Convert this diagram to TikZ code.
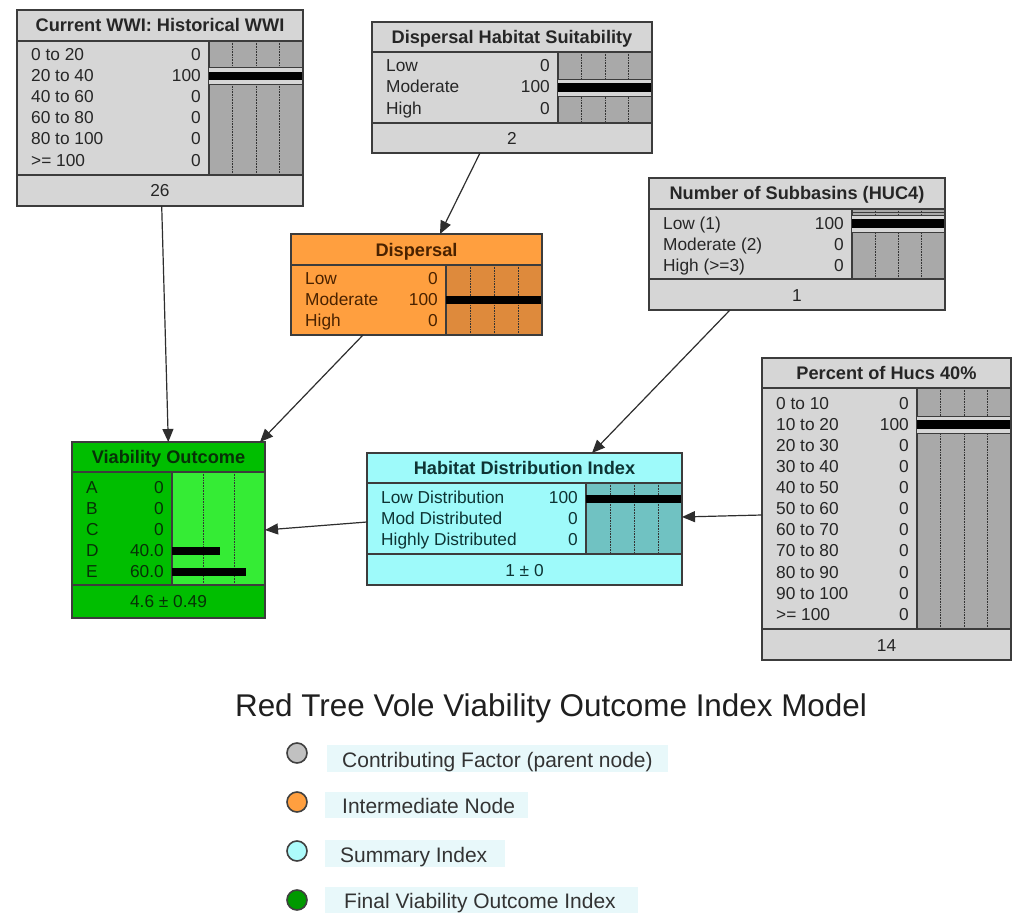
\documentclass[tikz,border=0pt]{standalone}
\usepackage{fontspec}
\setmainfont{Liberation Sans}
\usetikzlibrary{arrows.meta,calc}
\definecolor{edge}{HTML}{3C3C3C}
\definecolor{gfill}{HTML}{D6D6D6}
\definecolor{gbar}{HTML}{A9A9A9}
\definecolor{gtext}{HTML}{262626}
\definecolor{ofill}{HTML}{FF9F3F}
\definecolor{obar}{HTML}{DE8A3C}
\definecolor{otext}{HTML}{4A2200}
\definecolor{cfill}{HTML}{9EFAFA}
\definecolor{cbar}{HTML}{70C2C2}
\definecolor{ctext}{HTML}{0E3434}
\definecolor{vfill}{HTML}{00BE00}
\definecolor{vbar}{HTML}{35EC35}
\definecolor{vtext}{HTML}{073107}
\definecolor{legbg}{HTML}{E8F8FA}
\definecolor{arrowc}{HTML}{2E2E2E}
\newcounter{rowc}
\tikzset{
 boxedge/.style={draw=edge, line width=1.4pt},
 sepline/.style={draw=edge, line width=1.2pt},
 gridline/.style={draw=black!80, line width=0.6pt, densely dotted},
 titlefont/.style={font=\fontsize{18.2}{21}\selectfont\bfseries, inner sep=0pt},
 rowfont/.style={font=\fontsize{17.3}{20}\selectfont, inner sep=0pt},
 link/.style={draw=arrowc, line width=1.2pt, -{Triangle[length=13pt,width=11pt]}},
 legtext/.style={font=\fontsize{21}{24}\selectfont, text=black!80, inner sep=0pt, anchor=base west},
 legdot/.style={circle, draw=black!75, line width=1.6pt, minimum size=20pt, inner sep=0pt},
}
% #1 name, #2 x1, #3 y1, #4 x2, #5 y2, #6 title sep, #7 footer sep, #8 bar left
\newcommand\bnbox[8]{%
 \node[fill=\bnfill, draw=none, inner sep=0pt, outer sep=0pt, anchor=north west,
   minimum width={(#4-#2)*1pt}, minimum height={(#5-#3)*1pt}] (#1) at (#2,#3) {};
 \fill[\bnbarc] (#8,#6) rectangle (#4,#7);
 \foreach \f in \bngrid {\draw[gridline] ({#8+\f*(#4-#8)},#6) -- ({#8+\f*(#4-#8)},#7);}
 \draw[sepline] (#2,#6) -- (#4,#6) (#8,#6) -- (#8,#7) (#2,#7) -- (#4,#7);
 \node[titlefont, text=\bntext, anchor=base] (#1title) at ({(#2+#4)/2},{(#3+#6)/2+6.5}) {\bntitle};
}
\newcommand\bnframe[1]{\draw[boxedge] (#1.north west) rectangle (#1.south east);}
% #1 x1, #2 bar left, #3 y centre, #4 label, #5 value
\newcommand\bnrow[5]{\stepcounter{rowc}%
 \node[rowfont, text=\bntext, anchor=base west] (rl\arabic{rowc}) at ({#1+14},{#3+6.2}) {#4};
 \node[rowfont, text=\bntext, anchor=base east] (rv\arabic{rowc}) at ({#2-8},{#3+6.2}) {#5};}
% band with bar (grey nodes): #1 bar left, #2 x2, #3 y centre
\newcommand\bnband[3]{%
 \fill[\bnfill] (#1,{#3-8.5}) rectangle (#2,{#3+8.5});
 \draw[edge, line width=0.9pt] (#1,{#3-8.5}) -- (#2,{#3-8.5}) (#1,{#3+8.5}) -- (#2,{#3+8.5});
 \fill[black] (#1,{#3-4.3}) rectangle (#2,{#3+4.3});}
% plain bar: #1 bar left, #2 bar right, #3 y centre
\newcommand\bnbar[3]{\fill[black] (#1,{#3-4}) rectangle (#2,{#3+4});}
% footer text: #1 name, #2 cx, #3 y, #4 text
\newcommand\bnfoot[4]{\node[rowfont, text=\bntext, anchor=base] (#1) at (#2,{#3+6.2}) {#4};}

\begin{document}
\begin{tikzpicture}[x=1pt,y=-1pt]
\useasboundingbox (0,0) rectangle (1013,915);
\fill[white] (0,0) rectangle (1013,915);

% ---------- Current WWI ----------
\def\bnfill{gfill}\def\bnbarc{gbar}\def\bntext{gtext}\def\bngrid{0.25,0.5,0.75}
\def\bntitle{Current WWI: Historical WWI}
\bnbox{wwi}{17}{10}{303}{206}{41}{175}{209}
\bnband{209}{303}{76}
\bnrow{17}{209}{54}{0 to 20}{0}
\bnrow{17}{209}{75.2}{20 to 40}{100}
\bnrow{17}{209}{96.4}{40 to 60}{0}
\bnrow{17}{209}{117.6}{60 to 80}{0}
\bnrow{17}{209}{138.8}{80 to 100}{0}
\bnrow{17}{209}{160}{>= 100}{0}
\bnfoot{wwifoot}{160}{190.5}{26}
\bnframe{wwi}

% ---------- Dispersal Habitat Suitability ----------
\def\bntitle{Dispersal Habitat Suitability}
\bnbox{dhs}{372}{22}{652}{153}{52}{123}{558}
\bnband{558}{652}{87.5}
\bnrow{372}{558}{65.5}{Low}{0}
\bnrow{372}{558}{86.7}{Moderate}{100}
\bnrow{372}{558}{107.9}{High}{0}
\bnfoot{dhsfoot}{512}{138}{2}
\bnframe{dhs}

% ---------- Number of Subbasins ----------
\def\bntitle{Number of Subbasins (HUC4)}
\bnbox{nsub}{649}{178}{945}{310}{209}{279}{852}
\bnband{852}{945}{223.5}
\draw[edge, line width=0.8pt] (852,212) -- (945,212);
\bnrow{649}{852}{223}{Low (1)}{100}
\bnrow{649}{852}{244.2}{Moderate (2)}{0}
\bnrow{649}{852}{265.4}{High (>=3)}{0}
\bnfoot{nsubfoot}{797}{295}{1}
\bnframe{nsub}

% ---------- Percent of Hucs ----------
\def\bntitle{Percent of Hucs 40\%}
\bnbox{huc}{762}{358}{1011}{660}{388}{629}{917}
\bnband{917}{1011}{424.5}
\bnrow{762}{917}{403}{0 to 10}{0}
\bnrow{762}{917}{424.1}{10 to 20}{100}
\bnrow{762}{917}{445.2}{20 to 30}{0}
\bnrow{762}{917}{466.3}{30 to 40}{0}
\bnrow{762}{917}{487.4}{40 to 50}{0}
\bnrow{762}{917}{508.5}{50 to 60}{0}
\bnrow{762}{917}{529.6}{60 to 70}{0}
\bnrow{762}{917}{550.7}{70 to 80}{0}
\bnrow{762}{917}{571.8}{80 to 90}{0}
\bnrow{762}{917}{592.9}{90 to 100}{0}
\bnrow{762}{917}{614}{>= 100}{0}
\bnfoot{hucfoot}{886.5}{645}{14}
\bnframe{huc}

% ---------- Dispersal (orange) ----------
\def\bnfill{ofill}\def\bnbarc{obar}\def\bntext{otext}
\def\bntitle{Dispersal}
\bnbox{disp}{291}{234}{542}{335}{265}{335}{446}
\bnbar{446}{542}{300}
\bnrow{291}{446}{278}{Low}{0}
\bnrow{291}{446}{299}{Moderate}{100}
\bnrow{291}{446}{320}{High}{0}
\bnframe{disp}

% ---------- Habitat Distribution Index (cyan) ----------
\def\bnfill{cfill}\def\bnbarc{cbar}\def\bntext{ctext}
\def\bntitle{Habitat Distribution Index}
\bnbox{hdi}{367}{453}{682}{585}{483}{554}{586}
\bnbar{586}{682}{498.5}
\bnrow{367}{586}{497}{Low Distribution}{100}
\bnrow{367}{586}{518}{Mod Distributed}{0}
\bnrow{367}{586}{539}{Highly Distributed}{0}
\bnfoot{hdifoot}{524.5}{570}{1 ± 0}
\bnframe{hdi}

% ---------- Viability Outcome (green) ----------
\def\bnfill{vfill}\def\bnbarc{vbar}\def\bntext{vtext}\def\bngrid{0.3333,0.6667}
\def\bntitle{Viability Outcome}
\bnbox{via}{72}{442}{265}{618}{472}{585}{172}
\fill[black] (172,546.5) rectangle (220,554.5);
\fill[black] (172,567.5) rectangle (246,575.5);
\bnrow{72}{172}{487}{A}{0}
\bnrow{72}{172}{508}{B}{0}
\bnrow{72}{172}{529}{C}{0}
\bnrow{72}{172}{550}{D}{40.0}
\bnrow{72}{172}{571}{E}{60.0}
\bnfoot{viafoot}{168.5}{601}{4.6 ± 0.49}
\bnframe{via}

% ---------- connectors ----------
\draw[link] ($(wwi.south west)+(144.7,0)$) -- ($(via.north west)+(96.3,0)$);
\draw[link] ($(dhs.south west)+(108,0)$) -- ($(disp.north west)+(149,0)$);
\draw[link] ($(disp.south west)+(72,0)$) -- ($(via.north west)+(188,0)$);
\draw[link] ($(nsub.south west)+(81,0)$) -- ($(hdi.north west)+(225,0)$);
\draw[link] ($(huc.north west)+(0,157)$) -- ($(hdi.north east)+(0,64)$);
\draw[link] ($(hdi.north west)+(0,69)$) -- ($(via.north east)+(0,88)$);

% ---------- legend ----------
\node[font=\fontsize{31.4}{36}\selectfont, text=black!88, anchor=base, inner sep=0pt] (legtitle) at (551,716) {Red Tree Vole Viability Outcome Index Model};
\fill[legbg] (327,745) rectangle (668,772);
\fill[legbg] (325,792) rectangle (528,818);
\fill[legbg] (325,840) rectangle (505,867);
\fill[legbg] (325,887) rectangle (638,913);
\node[legdot, fill=gfill!90!black] (dot1) at (297,753) {};
\node[legdot, fill=ofill] (dot2) at (297,802) {};
\node[legdot, fill=cfill!85!white] (dot3) at (297,851) {};
\node[legdot, fill=green!60!black] (dot4) at (297,900) {};
\node[legtext] (leg1) at (342,767) {Contributing Factor (parent node)};
\node[legtext] (leg2) at (342,813) {Intermediate Node};
\node[legtext] (leg3) at (340,862) {Summary Index};
\node[legtext] (leg4) at (344,908) {Final Viability Outcome Index};
\end{tikzpicture}
\end{document}
